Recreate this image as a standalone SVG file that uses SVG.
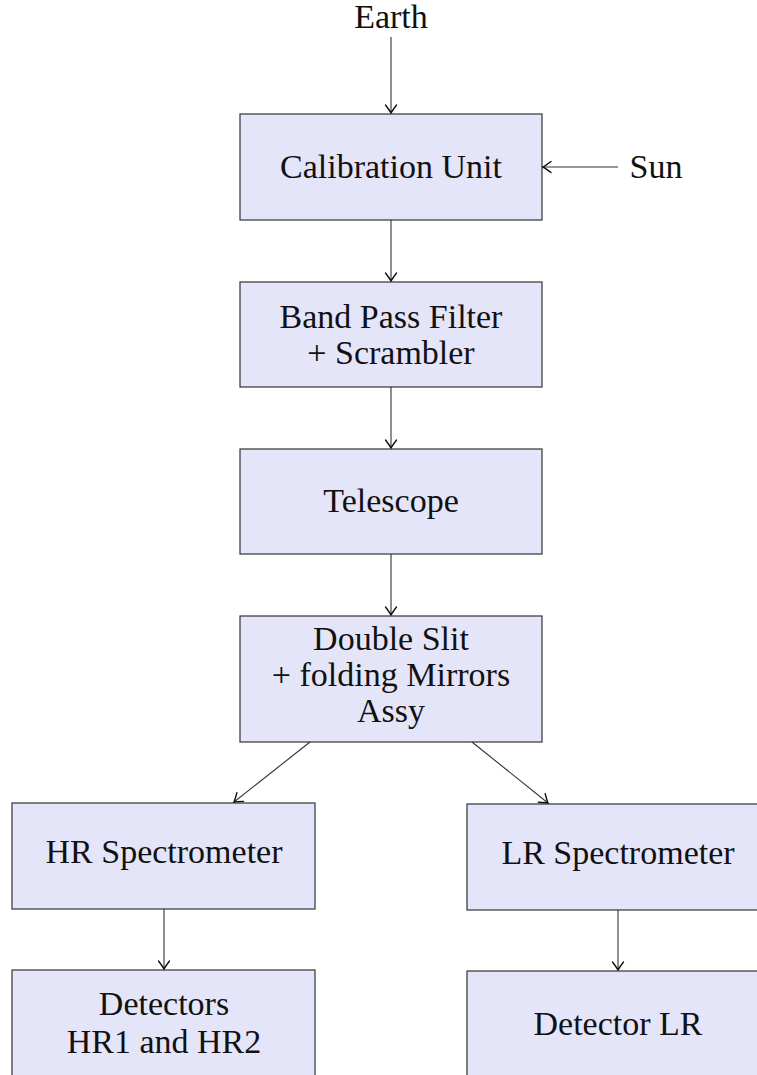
<svg xmlns="http://www.w3.org/2000/svg" width="757" height="1075" viewBox="0 0 757 1075">
<style>
.box{fill:#e5e5fa;stroke:#333;stroke-width:1.2}
.t{font-family:"Liberation Serif","Times New Roman",serif;font-size:34px;fill:#111;text-anchor:middle}
.c{stroke:#333;stroke-width:1.1;fill:none;marker-end:url(#ah)}
</style>
<defs>
<marker id="ah" markerUnits="userSpaceOnUse" viewBox="-10 -7 12 14" refX="0" refY="0" markerWidth="12" markerHeight="14" orient="auto">
<path d="M-8,-5.5 Q-2,-1 0,0 Q-2,1 -8,5.5" fill="none" stroke="#111" stroke-width="1.4" stroke-linecap="round"/>
</marker>
</defs>
<text class="t" x="391" y="28">Earth</text>
<text class="t" x="656" y="178">Sun</text>
<g id="calibration"><rect class="box" x="240" y="114" width="302" height="106"/><text class="t" x="391" y="178">Calibration Unit</text></g>
<g id="bandpass"><rect class="box" x="240" y="282" width="302" height="105"/><text class="t" x="391" y="328">Band Pass Filter</text><text class="t" x="391" y="364">+ Scrambler</text></g>
<g id="telescope"><rect class="box" x="240" y="449" width="302" height="105"/><text class="t" x="391" y="512">Telescope</text></g>
<g id="doubleslit"><rect class="box" x="240" y="616" width="302" height="126"/><text class="t" x="391" y="650">Double Slit</text><text class="t" x="391" y="686">+ folding Mirrors</text><text class="t" x="391" y="722">Assy</text></g>
<g id="hrspec"><rect class="box" x="12" y="803" width="303" height="106"/><text class="t" x="164" y="863">HR Spectrometer</text></g>
<g id="lrspec"><rect class="box" x="467" y="804" width="303" height="106"/><text class="t" x="618" y="864">LR Spectrometer</text></g>
<g id="hrdet"><rect class="box" x="12" y="970" width="303" height="110"/><text class="t" x="164" y="1015">Detectors</text><text class="t" x="164" y="1053">HR1 and HR2</text></g>
<g id="lrdet"><rect class="box" x="467" y="971" width="303" height="110"/><text class="t" x="618" y="1035">Detector LR</text></g>
<g id="connectors">
<line class="c" x1="391" y1="37" x2="391" y2="113"/>
<line class="c" x1="618" y1="167" x2="543" y2="167"/>
<line class="c" x1="391" y1="220" x2="391" y2="281"/>
<line class="c" x1="391" y1="387" x2="391" y2="448"/>
<line class="c" x1="391" y1="554" x2="391" y2="615"/>
<line class="c" x1="310" y1="742" x2="234" y2="802"/>
<line class="c" x1="472" y1="742" x2="548" y2="803"/>
<line class="c" x1="164" y1="909" x2="164" y2="969"/>
<line class="c" x1="618" y1="910" x2="618" y2="970"/>
</g>
</svg>
